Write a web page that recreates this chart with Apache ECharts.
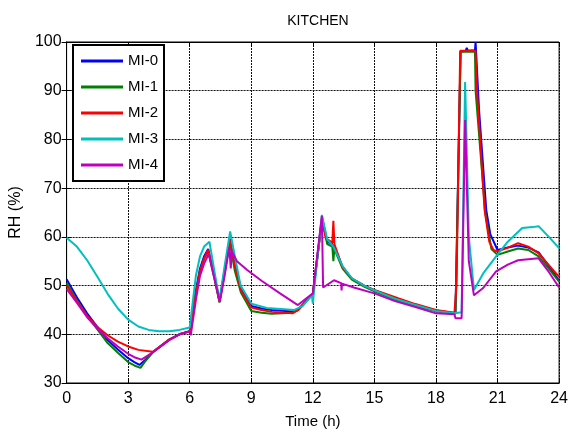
<!DOCTYPE html>
<html>
<head>
<meta charset="utf-8">
<script src="https://cdn.jsdelivr.net/npm/echarts@6/dist/echarts.min.js"></script>
<style>
  html, body { margin: 0; padding: 0; background: #fff; }
  #chart { width: 571px; height: 434px; }
</style>
</head>
<body>
<div id="chart"></div>
<script>
// [time (h), RH (%)]
var names = ["MI-0", "MI-1", "MI-2", "MI-3", "MI-4"];
var colors = ["#0000ff", "#008000", "#ff0000", "#00bfbf", "#bf00bf"];
var xTicks = [0, 3, 6, 9, 12, 15, 18, 21, 24];
var yTicks = [30, 40, 50, 60, 70, 80, 90, 100];

var mi0 = [[0,51.3],[0.5,47.6],[1,44.3],[1.5,41.5],[2,38.8],[2.5,36.9],[3,35.1],[3.3,34.3],[3.55,33.7],
  [3.8,34.6],[4.2,36.3],[5,38.9],[5.5,40],[6,40.6],[6.05,40.3],[6.3,49],[6.5,53.5],[6.7,56],[6.9,57.5],
  [7.2,52],[7.45,46.7],[7.7,53],[7.95,59.6],[8.2,54],[8.5,49.5],[9,45.8],[9.5,45.3],[10,45],[11,44.7],
  [11.3,45.2],[12,48.3],[12.45,64],[12.7,59],[12.95,58.5],[13.15,57],[13.45,53.8],[13.9,51.4],[14.5,50],
  [15,49],[16,47.3],[17,46],[18,44.9],[18.95,44.3],[19.2,98],[19.45,98.2],[19.5,98.8],[19.55,98.2],
  [19.9,98.3],[19.93,100],[20.1,86],[20.45,65.5],[20.65,60.5],[21,57.3],[21.5,57.8],[22,58.2],[22.5,57.8],
  [23,56.8],[23.5,54],[24,51]];

var mi1 = [[0,50.5],[0.5,47],[1,43.8],[1.5,41],[2,38.2],[2.5,36.2],[3,34.3],[3.3,33.6],[3.6,33.1],
  [3.8,34.3],[4.2,36.3],[5,38.9],[5.5,40],[6,40.6],[6.05,40.3],[6.3,48.5],[6.5,53],[6.7,55.5],[6.9,57],
  [7.2,51.5],[7.45,46.5],[7.7,52.5],[7.95,59],[8.2,53],[8.5,48.5],[9,44.8],[9.5,44.4],[10,44.2],[11,44.4],
  [11.3,45],[12,48.3],[12.45,63.5],[12.7,58.5],[12.95,58],[13,55],[13.05,57.5],[13.45,53.5],[13.9,51.2],
  [14.5,49.8],[15,48.8],[16,47.1],[17,45.8],[18,44.7],[18.95,44.2],[19.2,98],[19.5,98],[19.9,98],
  [19.93,90],[20.4,65],[20.7,57.5],[21,56.3],[21.5,57],[22,57.6],[22.5,57.3],[23,56],[23.5,53.5],[24,50.8]];

var mi2 = [[0,50],[0.5,46.8],[1,43.8],[1.5,41.5],[2,39.8],[2.5,38.5],[3,37.5],[3.5,36.8],[4.2,36.4],
  [5,38.9],[5.5,40],[6,40.6],[6.05,40.3],[6.3,48],[6.5,53],[6.7,55.5],[6.9,57.3],[7.2,52],[7.45,46.8],
  [7.7,53],[7.95,59.3],[8.2,54],[8.5,49],[9,45.5],[9.5,45],[10,44.6],[11,44.3],[11.3,45],[12,48.3],
  [12.45,63.8],[12.63,59.7],[12.95,58.8],[13,63.3],[13.05,58.5],[13.15,57.3],[13.43,53.9],[13.9,51.5],
  [14.5,50],[15,49.1],[16.15,47.4],[17,46.2],[18,45],[18.9,44.4],[19,50],[19.18,98.2],[19.93,98.2],
  [20,90],[20.37,65.5],[20.6,59],[20.8,57.3],[21,57],[21.5,57.8],[22,58.7],[22.5,58],[23,56.6],
  [23.5,54.2],[24,51.8]];

var mi3 = [[0,59.8],[0.5,58],[1,55.2],[1.5,51.8],[2,48.3],[2.5,45.3],[3,43],[3.5,41.6],[4,40.9],
  [4.5,40.6],[5,40.6],[5.5,40.9],[6,41.4],[6.3,52],[6.5,56],[6.7,58],[6.96,59],[7.2,53],[7.45,47],
  [7.7,54],[7.97,61.1],[8.2,56],[8.48,50],[9,46.3],[9.75,45.4],[11.1,45],[11.5,45.8],[11.95,48],
  [12,46.3],[12.05,48.5],[12.44,64.5],[12.7,59.5],[13,58],[13.45,54],[13.9,51.5],[14.5,50],[15,49],
  [16,47.3],[17,46],[18,44.8],[18.9,44.3],[19.25,44.5],[19.42,91.8],[19.6,60],[19.85,49.1],[20.3,52.5],
  [20.93,56],[21.5,59],[22.2,61.8],[22.7,62],[23,62.2],[23.5,60],[24,57.7]];

var mi4 = [[0,49.3],[0.5,46.5],[1,43.5],[1.5,41.2],[2,39.2],[2.5,37.5],[3,36],[3.3,35.3],[3.65,34.8],
  [4.2,36.3],[5,38.8],[5.5,40],[6,40.7],[6.05,39.8],[6.3,47],[6.5,52],[6.7,54.5],[6.93,56.5],[7.2,51.5],
  [7.47,46.7],[7.7,52],[7.93,57.9],[8,53.5],[8.05,57],[8.3,55],[8.8,53.2],[9.5,51],[10.4,48.4],
  [11.27,46],[12,48.4],[12.44,64.3],[12.5,49.6],[13.03,51.1],[13.38,50.5],[13.4,49],[13.42,50.4],
  [14,49.6],[15,48.4],[16,46.8],[17,45.6],[18,44.3],[18.9,44.1],[18.95,43.3],[19.25,43.3],[19.42,84],
  [19.6,55],[19.85,48],[20.3,49.5],[20.93,52.9],[21.5,54.3],[22,55.2],[22.5,55.4],[23,55.6],[23.5,52.8],
  [24,49.6]];

var allData = [mi0, mi1, mi2, mi3, mi4];

var font = "'Liberation Sans', Arial, sans-serif";

var myChart = echarts.init(document.getElementById("chart"), null, { renderer: "canvas" });

var gridLine = { show: true, lineStyle: { color: "#111", width: 1, type: [2, 1] } };

var option = {
  animation: false,
  backgroundColor: "#fff",
  title: {
    text: "KITCHEN",
    left: 313,
    top: 9,
    textAlign: "center",
    textStyle: { fontFamily: font, fontSize: 14, fontWeight: "normal", color: "#000" }
  },
  legend: {
    data: names,
    orient: "vertical",
    left: 73,
    top: 45,
    padding: [7, 6, 7, 8],
    itemWidth: 42,
    itemHeight: 3,
    itemGap: 8,
    icon: "rect",
    borderColor: "#000",
    borderWidth: 2,
    borderRadius: 0,
    backgroundColor: "#fff",
    textStyle: { fontFamily: font, fontSize: 15, lineHeight: 18, color: "#000" }
  },
  grid: { left: 63, right: 7, top: 42, bottom: 51, show: true, borderColor: "#000", borderWidth: 1 },
  xAxis: [{
    type: "value",
    min: 0, max: 24, interval: 3,
    name: "Time (h)",
    nameLocation: "middle",
    nameGap: 31,
    nameTextStyle: { fontFamily: font, fontSize: 15, color: "#000" },
    axisLine: { show: true, lineStyle: { color: "#000" } },
    axisTick: { inside: true, length: 5, lineStyle: { color: "#000" } },
    axisLabel: { fontFamily: font, fontSize: 16, color: "#000", margin: 8,
      formatter: function (v) { return xTicks.indexOf(v) >= 0 ? String(v) : ""; } },
    splitLine: gridLine
  }, {
    type: "value", position: "top",
    min: 0, max: 24, interval: 3,
    axisLine: { show: true, lineStyle: { color: "#000" } },
    axisTick: { inside: true, length: 5, lineStyle: { color: "#000" } },
    axisLabel: { show: false },
    splitLine: { show: false }
  }],
  yAxis: [{
    type: "value",
    min: 30, max: 100, interval: 10,
    name: "RH (%)",
    nameLocation: "middle",
    nameGap: 33,
    nameTextStyle: { fontFamily: font, fontSize: 16, color: "#000" },
    axisLine: { show: true, lineStyle: { color: "#000" } },
    axisTick: { inside: true, length: 5, lineStyle: { color: "#000" } },
    axisLabel: { fontFamily: font, fontSize: 16, color: "#000", margin: 5,
      formatter: function (v) { return yTicks.indexOf(v) >= 0 ? String(v) : ""; } },
    splitLine: gridLine
  }, {
    type: "value", position: "right",
    min: 30, max: 100, interval: 10,
    axisLine: { show: true, lineStyle: { color: "#000" } },
    axisTick: { inside: true, length: 5, lineStyle: { color: "#000" } },
    axisLabel: { show: false },
    splitLine: { show: false }
  }],
  series: names.map(function (n, i) {
    return {
      name: n,
      type: "line",
      data: allData[i],
      showSymbol: false,
      symbol: "none",
      color: colors[i],
      lineStyle: { width: 2, color: colors[i] },
      z: 2 + i
    };
  })
};

myChart.setOption(option);
window.addEventListener("resize", myChart.resize);
</script>
</body>
</html>
